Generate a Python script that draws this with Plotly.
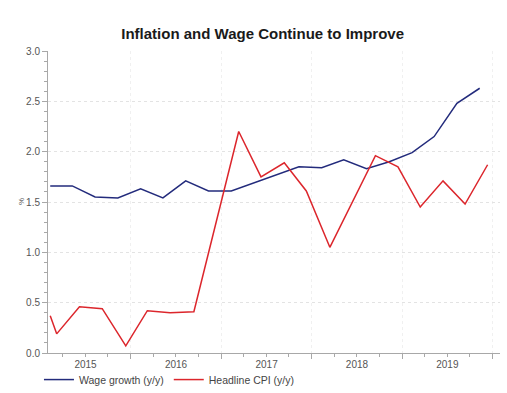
import plotly.graph_objects as go

# Wage growth, quarterly (mid-quarter dates)
wage_dates = ["2015-02-10", "2015-05-10", "2015-08-10", "2015-11-10",
              "2016-02-10", "2016-05-10", "2016-08-10", "2016-11-10",
              "2017-02-10", "2017-05-10", "2017-08-10", "2017-11-10",
              "2018-02-10", "2018-05-10", "2018-08-10", "2018-11-10",
              "2019-02-10", "2019-05-10", "2019-08-10", "2019-11-10"]
wage_values = [1.66, 1.66, 1.55, 1.54,
               1.63, 1.54, 1.71, 1.61,
               1.61, 1.69, 1.77, 1.85,
               1.84, 1.92, 1.83, 1.90,
               1.99, 2.15, 2.48, 2.63]

# Headline CPI
cpi_dates = ["2015-02-10", "2015-03-08", "2015-06-08", "2015-09-08", "2015-12-12",
             "2016-03-08", "2016-06-08", "2016-09-12",
             "2017-03-12", "2017-06-10", "2017-09-12", "2017-12-10",
             "2018-03-15", "2018-09-15", "2018-12-15",
             "2019-03-15", "2019-06-15", "2019-09-12", "2019-12-12"]
cpi_values = [0.37, 0.19, 0.46, 0.44, 0.07,
              0.42, 0.40, 0.41,
              2.20, 1.75, 1.89, 1.61,
              1.05, 1.96, 1.85,
              1.45, 1.71, 1.48, 1.87]

title_text = "Inflation and Wage Continue to Improve"
wage_name = "Wage growth (y/y)"
cpi_name = "Headline CPI (y/y)"
y_unit = "%"

FONT = "Arial, 'Liberation Sans', sans-serif"
GRID = "#e3e3e3"
AXIS = "#a8a8a8"

fig = go.Figure()
fig.add_trace(go.Scatter(x=wage_dates, y=wage_values, mode="lines", name=wage_name,
                         line=dict(color="#232b7c", width=1.5)))
fig.add_trace(go.Scatter(x=cpi_dates, y=cpi_values, mode="lines", name=cpi_name,
                         line=dict(color="#dc262c", width=1.5)))

fig.update_layout(
    width=507, height=393,
    margin=dict(l=48, r=7, t=51, b=40, autoexpand=False),
    paper_bgcolor="white", plot_bgcolor="white",
    font=dict(family=FONT, color="#555555", size=10),
    title=dict(text=title_text, x=0.518, xanchor="center", y=1 - 34 / 393, yanchor="middle",
               font=dict(family=FONT, size=15, color="#1a1a1a", weight="bold")),
    showlegend=True,
    legend=dict(orientation="h", x=-0.02, xanchor="left", y=-0.088, yanchor="middle",
                font=dict(size=10.5, color="#444444"), bgcolor="rgba(0,0,0,0)",
                itemwidth=30, tracegroupgap=0),
    annotations=[dict(text=y_unit, xref="paper", yref="paper", x=-27 / 452, y=0.5,
                      xanchor="center", yanchor="middle", textangle=-90, showarrow=False,
                      font=dict(size=8, color="#555555"))],
)

fig.update_xaxes(
    type="date", automargin=False,
    range=["2015-02-01", "2020-01-31"],
    tick0="2015-01-01", dtick="M12", ticklabelmode="period", tickformat="%Y",
    ticks="outside", ticklen=5, tickcolor=AXIS, ticklabelstandoff=-3,
    minor=dict(dtick="M3", ticks="outside", ticklen=3, tickcolor=AXIS, showgrid=False),
    showline=True, linecolor=AXIS, linewidth=1,
    showgrid=True, gridcolor="#f0f0f0", griddash="dot",
    tickfont=dict(size=10, color="#555555"),
    zeroline=False,
)
fig.update_yaxes(
    automargin=False,
    range=[0, 3], dtick=0.5, tickformat=".1f",
    ticks="outside", ticklen=5, tickcolor=AXIS,
    minor=dict(dtick=0.1, ticks="outside", ticklen=3, tickcolor=AXIS, showgrid=False),
    showline=True, linecolor=AXIS, linewidth=1,
    showgrid=True, gridcolor=GRID, griddash="dot",
    tickfont=dict(size=10, color="#555555"),
    zeroline=False,
)

fig.write_html("out.html", config={"displayModeBar": False},
               post_script="document.body.style.margin='0px';")
